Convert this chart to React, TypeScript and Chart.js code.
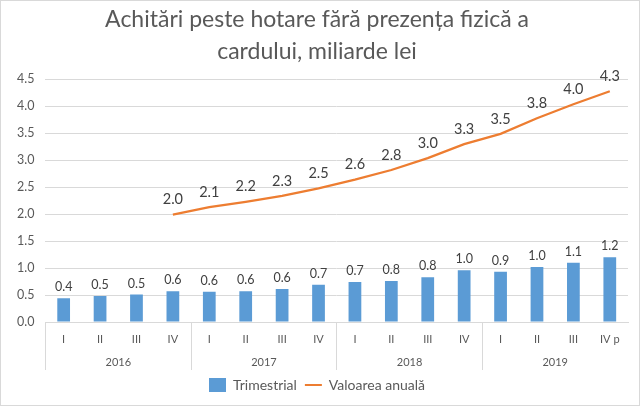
import React, { useEffect, useRef } from 'react';
import { Chart, registerables } from 'chart.js';

Chart.register(...registerables);

const titleLines = ['Achitări peste hotare fără prezența fizică a', 'cardului, miliarde lei'];
const quarters = ['I', 'II', 'III', 'IV', 'I', 'II', 'III', 'IV', 'I', 'II', 'III', 'IV', 'I', 'II', 'III', 'IV p'];
const years = ['2016', '2017', '2018', '2019'];
const trimestrial = [0.44, 0.48, 0.51, 0.57, 0.56, 0.57, 0.61, 0.69, 0.74, 0.76, 0.83, 0.96, 0.93, 1.02, 1.10, 1.20];
const valoareaAnuala = [null, null, null, 1.99, 2.13, 2.23, 2.34, 2.48, 2.64, 2.82, 3.04, 3.30, 3.49, 3.78, 4.04, 4.28];
const seriesNames = ['Trimestrial', 'Valoarea anuală'];
const yMin = 0;
const yMax = 4.5;
const yStep = 0.5;

const FONT = 'Lato, "Open Sans", sans-serif';
const BLUE = '#5B9BD5';
const ORANGE = '#ED7D31';
const GRID = '#d9d9d9';
const TEXT = '#595959';
const QPY = 4; // quarters per year group

const valueLabels = {
  id: 'valueLabels',
  afterDatasetsDraw(chart: any) {
    const ctx = chart.ctx;
    chart.data.datasets.forEach((ds: any, di: number) => {
      const meta = chart.getDatasetMeta(di);
      meta.data.forEach((el: any, i: number) => {
        const v = ds.data[i];
        if (v == null) return;
        ctx.save();
        ctx.font = (di === 0 ? '12.5px ' : '14.5px ') + FONT;
        ctx.fillStyle = '#404040';
        ctx.textAlign = 'center';
        ctx.textBaseline = 'middle';
        ctx.fillText(Number(v).toFixed(1), el.x, el.y - (di === 0 ? 11 : 15));
        ctx.restore();
      });
    });
  },
};

const groupAxis = {
  id: 'groupAxis',
  afterDraw(chart: any) {
    const ctx = chart.ctx;
    const xs = chart.scales.x;
    const top = xs.top;
    ctx.save();
    ctx.fillStyle = TEXT;
    ctx.textAlign = 'center';
    ctx.textBaseline = 'middle';
    ctx.font = '11px ' + FONT;
    quarters.forEach((q, i) => {
      ctx.fillText(q, xs.getPixelForTick(i), top + 17);
    });
    years.forEach((y, g) => {
      const a = xs.getPixelForTick(g * QPY);
      const b = xs.getPixelForTick(g * QPY + QPY - 1);
      ctx.fillText(y, (a + b) / 2, top + 40);
    });
    ctx.restore();
  },
};

export default function App() {
  const ref = useRef<HTMLCanvasElement | null>(null);

  useEffect(() => {
    document.body.style.margin = '0';
    if (!ref.current) return;
    const chart = new Chart(ref.current, {
      type: 'bar',
      data: {
        labels: quarters,
        datasets: [
          {
            type: 'bar',
            label: seriesNames[0],
            data: trimestrial,
            backgroundColor: BLUE,
            barPercentage: 0.35,
            categoryPercentage: 1,
          },
          {
            type: 'line',
            label: seriesNames[1],
            data: valoareaAnuala as any,
            borderColor: ORANGE,
            backgroundColor: ORANGE,
            borderWidth: 2.25,
            pointRadius: 0,
            tension: 0,
          },
        ],
      },
      options: {
        animation: false,
        responsive: true,
        maintainAspectRatio: false,
        layout: { padding: { left: 5, right: 11, top: 0, bottom: 3 } },
        plugins: {
          tooltip: { enabled: false },
          title: {
            display: true,
            text: titleLines,
            color: TEXT,
            font: { family: FONT, size: 23, weight: 'normal', lineHeight: 1.4 },
            padding: { top: 2, bottom: 12 },
          },
          legend: {
            position: 'bottom',
            labels: {
              color: TEXT,
              font: { family: FONT, size: 14 },
              usePointStyle: true,
              pointStyleWidth: 17,
              boxHeight: 14,
              padding: 8,
              generateLabels: (chart: any) => {
                const items = Chart.defaults.plugins.legend.labels.generateLabels(chart);
                return items.map((it: any) => {
                  if (it.datasetIndex === 0) {
                    it.pointStyle = 'rect';
                    it.fillStyle = BLUE;
                    it.strokeStyle = BLUE;
                    it.lineWidth = 0;
                  } else {
                    it.pointStyle = 'line';
                    it.strokeStyle = ORANGE;
                    it.lineWidth = 2;
                  }
                  return it;
                });
              },
            },
          },
        },
        scales: {
          x: {
            type: 'category',
            offset: true,
            grid: {
              offset: true,
              drawOnChartArea: false,
              tickLength: 48,
              color: (c: any) => (c.index % QPY === 0 ? GRID : 'rgba(0,0,0,0)'),
            },
            border: { display: true, color: GRID },
            ticks: { display: false },
          },
          y: {
            min: yMin,
            max: yMax,
            grid: { color: GRID, drawTicks: false },
            border: { display: false },
            ticks: {
              stepSize: yStep,
              color: TEXT,
              font: { family: FONT, size: 12.5 },
              padding: 11,
              callback: (v: any) => Number(v).toFixed(1),
            },
          },
        },
      },
      plugins: [valueLabels, groupAxis],
    });
    return () => chart.destroy();
  }, []);

  return (
    <div
      style={{
        position: 'absolute',
        left: 0,
        top: 0,
        width: 640,
        height: 406,
        boxSizing: 'border-box',
        border: '1px solid #d9d9d9',
        background: '#fff',
      }}
    >
      <canvas ref={ref} />
    </div>
  );
}
